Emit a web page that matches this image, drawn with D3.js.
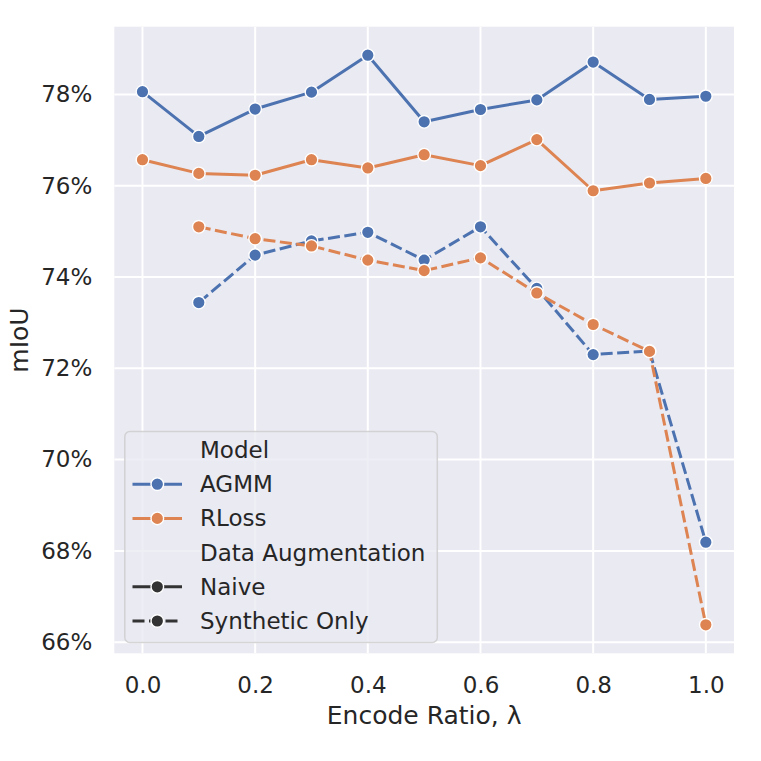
<!DOCTYPE html>
<html lang="en">
	<head>
		<meta charset="utf-8">
		<title>mIoU vs encode ratio</title>
		<script type="text/javascript" src="https://cdn.jsdelivr.net/npm/d3@7"></script>
		<style type="text/css">
			body { margin: 0; background: #fff; }
			text { font-family: "DejaVu Sans", sans-serif; fill: #262626; }
		</style>
	</head>
	<body>
		<script type="text/javascript">

			//Data
			var ratios = [0.0, 0.1, 0.2, 0.3, 0.4, 0.5, 0.6, 0.7, 0.8, 0.9, 1.0];
			var synthRatios = [0.1, 0.2, 0.3, 0.4, 0.5, 0.6, 0.7, 0.8, 0.9, 1.0];
			var agmmNaive = [78.06, 77.08, 77.68, 78.05, 78.86, 77.40, 77.67, 77.88, 78.71, 77.89, 77.96];
			var rlossNaive = [76.57, 76.27, 76.23, 76.57, 76.39, 76.68, 76.44, 77.01, 75.89, 76.06, 76.16];
			var agmmSynth = [73.44, 74.48, 74.79, 74.98, 74.37, 75.10, 73.75, 72.30, 72.38, 68.19];
			var rlossSynth = [75.10, 74.84, 74.68, 74.37, 74.14, 74.42, 73.65, 72.96, 72.37, 66.38];
			var xTicks = [0.0, 0.2, 0.4, 0.6, 0.8, 1.0];
			var yTicks = [66, 68, 70, 72, 74, 76, 78];
			var models = ["AGMM", "RLoss"];
			var augmentations = ["Naive", "Synthetic Only"];

			var w = 761;
			var h = 761;
			var plotLeft = 114.3, plotRight = 734, plotTop = 26.7, plotBottom = 653.3;

			var colors = { AGMM: "#4c72b0", RLoss: "#dd8452" };
			var dashes = { "Naive": null, "Synthetic Only": "12,4.5" };

			var series = [
				{ model: "AGMM", aug: "Naive", xs: ratios, ys: agmmNaive },
				{ model: "AGMM", aug: "Synthetic Only", xs: synthRatios, ys: agmmSynth },
				{ model: "RLoss", aug: "Naive", xs: ratios, ys: rlossNaive },
				{ model: "RLoss", aug: "Synthetic Only", xs: synthRatios, ys: rlossSynth }
			];

			//y limits with a 5% margin, like matplotlib
			var allY = agmmNaive.concat(rlossNaive, agmmSynth, rlossSynth);
			var yMin = d3.min(allY), yMax = d3.max(allY);
			var pad = (yMax - yMin) * 0.05;

			var xScale = d3.scaleLinear().domain([-0.05, 1.05]).range([plotLeft, plotRight]);
			var yScale = d3.scaleLinear().domain([yMin - pad, yMax + pad]).range([plotBottom, plotTop]);

			var svg = d3.select("body")
						.append("svg")
						.attr("width", w)
						.attr("height", h);

			//Background panel
			svg.append("rect")
			   .attr("x", plotLeft)
			   .attr("y", plotTop)
			   .attr("width", plotRight - plotLeft)
			   .attr("height", plotBottom - plotTop)
			   .attr("fill", "#eaeaf2");

			//Grid
			svg.selectAll("line.gx")
			   .data(xTicks)
			   .enter()
			   .append("line")
			   .attr("class", "gx")
			   .attr("x1", function(d) { return xScale(d); })
			   .attr("x2", function(d) { return xScale(d); })
			   .attr("y1", plotTop)
			   .attr("y2", plotBottom)
			   .attr("stroke", "#fff")
			   .attr("stroke-width", 2);

			svg.selectAll("line.gy")
			   .data(yTicks)
			   .enter()
			   .append("line")
			   .attr("class", "gy")
			   .attr("x1", plotLeft)
			   .attr("x2", plotRight)
			   .attr("y1", function(d) { return yScale(d); })
			   .attr("y2", function(d) { return yScale(d); })
			   .attr("stroke", "#fff")
			   .attr("stroke-width", 2);

			//Axes (labels only)
			var xAxis = svg.append("g")
				.attr("transform", "translate(0," + plotBottom + ")")
				.call(d3.axisBottom(xScale).tickValues(xTicks).tickSize(0).tickPadding(23)
					.tickFormat(function(d) { return d.toFixed(1); }));
			var yAxis = svg.append("g")
				.attr("transform", "translate(" + plotLeft + ",0)")
				.call(d3.axisLeft(yScale).tickValues(yTicks).tickSize(0).tickPadding(22)
					.tickFormat(function(d) { return d + "%"; }));
			[xAxis, yAxis].forEach(function(g) {
				g.select(".domain").remove();
				g.selectAll("text")
				 .attr("font-family", "DejaVu Sans")
				 .attr("font-size", "23px")
				 .attr("fill", "#262626");
			});

			//Lines and markers
			var line = d3.line()
						.x(function(d) { return xScale(d[0]); })
						.y(function(d) { return yScale(d[1]); });

			series.forEach(function(s) {
				var pts = s.xs.map(function(x, i) { return [x, s.ys[i]]; });
				svg.append("path")
				   .datum(pts)
				   .attr("d", line)
				   .attr("fill", "none")
				   .attr("stroke", colors[s.model])
				   .attr("stroke-width", 3)
				   .attr("stroke-linejoin", "round")
				   .attr("stroke-dasharray", dashes[s.aug]);
				svg.append("g")
				   .selectAll("circle")
				   .data(pts)
				   .enter()
				   .append("circle")
				   .attr("cx", function(d) { return xScale(d[0]); })
				   .attr("cy", function(d) { return yScale(d[1]); })
				   .attr("r", 6.3)
				   .attr("fill", colors[s.model])
				   .attr("stroke", "#fff")
				   .attr("stroke-width", 1.4);
			});

			//Axis titles
			svg.append("text")
			   .attr("x", (plotLeft + plotRight) / 2)
			   .attr("y", 724)
			   .attr("text-anchor", "middle")
			   .attr("font-size", "25px")
			   .text("Encode Ratio, λ");

			svg.append("text")
			   .attr("transform", "translate(28," + ((plotTop + plotBottom) / 2) + ") rotate(-90)")
			   .attr("text-anchor", "middle")
			   .attr("font-size", "25px")
			   .text("mIoU");

			//Legend
			var legendRows = [
				{ label: "Model" },
				{ label: models[0], color: colors[models[0]], dash: null },
				{ label: models[1], color: colors[models[1]], dash: null },
				{ label: "Data Augmentation" },
				{ label: augmentations[0], color: "#333333", dash: null },
				{ label: augmentations[1], color: "#333333", dash: dashes["Synthetic Only"] }
			];

			var legend = svg.append("g");
			legend.append("rect")
				  .attr("x", 124.8)
				  .attr("y", 431.5)
				  .attr("width", 312.5)
				  .attr("height", 211)
				  .attr("rx", 5)
				  .attr("fill", "#eaeaf2")
				  .attr("fill-opacity", 0.8)
				  .attr("stroke", "#cccccc")
				  .attr("stroke-opacity", 0.8)
				  .attr("stroke-width", 1.5);

			var rowY = d3.scaleLinear().domain([0, 5]).range([450, 621]);

			var rows = legend.selectAll("g.row")
							 .data(legendRows)
							 .enter()
							 .append("g")
							 .attr("class", "row")
							 .attr("transform", function(d, i) { return "translate(0," + rowY(i) + ")"; });

			rows.append("text")
				.attr("x", 200)
				.attr("dy", "0.35em")
				.attr("font-size", "23px")
				.text(function(d) { return d.label; });

			var handles = rows.filter(function(d) { return d.color; });
			handles.append("line")
				   .attr("x1", 132.5)
				   .attr("x2", 182)
				   .attr("stroke", function(d) { return d.color; })
				   .attr("stroke-width", 3)
				   .attr("stroke-dasharray", function(d) { return d.dash; });
			handles.append("circle")
				   .attr("cx", 157.3)
				   .attr("r", 6.3)
				   .attr("fill", function(d) { return d.color; })
				   .attr("stroke", "#fff")
				   .attr("stroke-width", 1.4);

		</script>
	</body>
</html>
